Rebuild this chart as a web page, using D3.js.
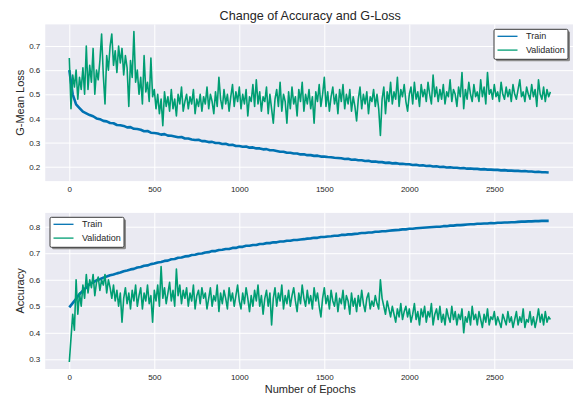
<!DOCTYPE html>
<html>
<head>
<meta charset="utf-8">
<script src="https://cdn.jsdelivr.net/npm/d3@7"></script>
<style>
  body { margin: 0; background: #fff; }
  svg text { font-family: "Liberation Sans", Arial, sans-serif; fill: #262626; }
</style>
</head>
<body>
<div id="chart"></div>
<script>
// logging interval (epochs) of the values below
var valStep = 10;
var trainStep = 20;

var seriesNames = ["Train", "Validation"];
var xTicks = [0, 500, 1000, 1500, 2000, 2500];
var lossTicks = [0.2, 0.3, 0.4, 0.5, 0.6, 0.7];
var accTicks = [0.3, 0.4, 0.5, 0.6, 0.7, 0.8];

var trainLoss = [
  0.600, 0.500, 0.458, 0.443, 0.428, 0.421, 0.414, 0.409, 0.400, 0.397,
  0.390, 0.388, 0.381, 0.380, 0.373, 0.372, 0.369, 0.363, 0.364, 0.357,
  0.356, 0.353, 0.347, 0.348, 0.341, 0.340, 0.338, 0.333, 0.335, 0.329,
  0.328, 0.325, 0.322, 0.323, 0.317, 0.317, 0.313, 0.311, 0.312, 0.306,
  0.306, 0.302, 0.303, 0.298, 0.298, 0.294, 0.295, 0.290, 0.291, 0.286,
  0.286, 0.283, 0.284, 0.279, 0.280, 0.276, 0.276, 0.272, 0.273, 0.268,
  0.268, 0.265, 0.262, 0.262, 0.258, 0.258, 0.255, 0.255, 0.251, 0.252,
  0.248, 0.248, 0.245, 0.246, 0.242, 0.242, 0.240, 0.239, 0.237, 0.236,
  0.235, 0.232, 0.233, 0.229, 0.230, 0.227, 0.227, 0.224, 0.225, 0.221,
  0.222, 0.219, 0.219, 0.216, 0.217, 0.214, 0.215, 0.212, 0.212, 0.210,
  0.210, 0.207, 0.208, 0.205, 0.206, 0.203, 0.204, 0.201, 0.202, 0.199,
  0.200, 0.197, 0.198, 0.196, 0.196, 0.194, 0.195, 0.192, 0.193, 0.191,
  0.191, 0.189, 0.190, 0.188, 0.188, 0.187, 0.187, 0.185, 0.186, 0.184,
  0.184, 0.183, 0.183, 0.181, 0.182, 0.180, 0.180, 0.178, 0.179, 0.177,
  0.177, 0.176
];

var valLoss = [
  0.65, 0.44, 0.58, 0.53, 0.60, 0.48, 0.57, 0.52, 0.61, 0.50,
  0.70, 0.52, 0.62, 0.55, 0.69, 0.50, 0.60, 0.56, 0.64, 0.75,
  0.58, 0.46, 0.66, 0.60, 0.70, 0.75, 0.62, 0.68, 0.59, 0.70,
  0.63, 0.69, 0.58, 0.66, 0.61, 0.45, 0.64, 0.57, 0.76, 0.55,
  0.60, 0.50, 0.57, 0.46, 0.66, 0.51, 0.55, 0.47, 0.65, 0.49,
  0.52, 0.44, 0.50, 0.42, 0.48, 0.37, 0.51, 0.45, 0.49, 0.43,
  0.52, 0.44, 0.48, 0.41, 0.50, 0.46, 0.53, 0.43, 0.47, 0.50,
  0.44, 0.49, 0.46, 0.52, 0.42, 0.48, 0.45, 0.50, 0.43, 0.49,
  0.46, 0.53, 0.44, 0.50, 0.47, 0.42, 0.51, 0.45, 0.57, 0.48,
  0.44, 0.52, 0.46, 0.50, 0.43, 0.49, 0.54, 0.45, 0.51, 0.47,
  0.53, 0.44, 0.50, 0.46, 0.52, 0.41, 0.49, 0.47, 0.54, 0.45,
  0.56, 0.46, 0.51, 0.43, 0.49, 0.47, 0.53, 0.42, 0.50, 0.44,
  0.38, 0.48, 0.52, 0.45, 0.55, 0.43, 0.50, 0.47, 0.38, 0.51,
  0.44, 0.53, 0.46, 0.49, 0.41, 0.52, 0.47, 0.55, 0.43, 0.50,
  0.46, 0.52, 0.44, 0.49, 0.38, 0.51, 0.47, 0.54, 0.45, 0.50,
  0.57, 0.45, 0.51, 0.43, 0.49, 0.53, 0.46, 0.50, 0.42, 0.52,
  0.47, 0.54, 0.44, 0.50, 0.46, 0.52, 0.43, 0.49, 0.45, 0.39,
  0.48, 0.53, 0.44, 0.50, 0.46, 0.51, 0.42, 0.49, 0.47, 0.52,
  0.45, 0.50, 0.44, 0.33, 0.48, 0.53, 0.42, 0.51, 0.47, 0.55,
  0.46, 0.51, 0.48, 0.57, 0.45, 0.52, 0.49, 0.54, 0.47, 0.43,
  0.50, 0.53, 0.46, 0.55, 0.48, 0.51, 0.45, 0.54, 0.49, 0.52,
  0.47, 0.55, 0.50, 0.46, 0.58, 0.49, 0.53, 0.47, 0.52, 0.48,
  0.54, 0.46, 0.51, 0.49, 0.56, 0.47, 0.52, 0.50, 0.45, 0.53,
  0.49, 0.59, 0.44, 0.52, 0.48, 0.55, 0.50, 0.47, 0.54, 0.49,
  0.51, 0.47, 0.56, 0.49, 0.53, 0.46, 0.59, 0.50, 0.52, 0.48,
  0.54, 0.49, 0.51, 0.47, 0.55, 0.50, 0.48, 0.53, 0.49, 0.52,
  0.47, 0.54, 0.50, 0.48, 0.52, 0.56, 0.49, 0.51, 0.47, 0.53,
  0.50, 0.48, 0.54, 0.49, 0.52, 0.45, 0.56, 0.50, 0.48, 0.53,
  0.47, 0.52, 0.49, 0.51
];

var trainAcc = [
  0.496, 0.512, 0.528, 0.546, 0.559, 0.571, 0.584, 0.590, 0.598, 0.602,
  0.608, 0.612, 0.617, 0.620, 0.624, 0.627, 0.632, 0.635, 0.639, 0.641,
  0.646, 0.648, 0.653, 0.654, 0.659, 0.661, 0.665, 0.667, 0.671, 0.672,
  0.677, 0.678, 0.683, 0.684, 0.688, 0.689, 0.693, 0.694, 0.698, 0.699,
  0.703, 0.704, 0.708, 0.708, 0.712, 0.713, 0.716, 0.716, 0.720, 0.720,
  0.724, 0.724, 0.728, 0.728, 0.731, 0.731, 0.735, 0.735, 0.738, 0.738,
  0.741, 0.741, 0.744, 0.744, 0.747, 0.747, 0.750, 0.750, 0.752, 0.753,
  0.755, 0.756, 0.758, 0.758, 0.761, 0.761, 0.763, 0.764, 0.766, 0.766,
  0.769, 0.769, 0.771, 0.771, 0.773, 0.774, 0.776, 0.776, 0.778, 0.778,
  0.781, 0.781, 0.783, 0.783, 0.785, 0.786, 0.787, 0.788, 0.790, 0.790,
  0.792, 0.792, 0.794, 0.795, 0.796, 0.797, 0.798, 0.799, 0.800, 0.800,
  0.802, 0.802, 0.804, 0.804, 0.806, 0.806, 0.807, 0.808, 0.809, 0.809,
  0.811, 0.811, 0.812, 0.812, 0.814, 0.813, 0.815, 0.815, 0.816, 0.816,
  0.817, 0.817, 0.818, 0.819, 0.819, 0.820, 0.820, 0.821, 0.821, 0.822,
  0.822, 0.822
];

var valAcc = [
  0.29, 0.38, 0.47, 0.41, 0.60, 0.47, 0.55, 0.50, 0.58, 0.53,
  0.62, 0.55, 0.60, 0.57, 0.62, 0.54, 0.59, 0.61, 0.56, 0.60,
  0.58, 0.62, 0.55, 0.60, 0.57, 0.53, 0.58, 0.52, 0.56, 0.50,
  0.55, 0.44, 0.53, 0.57, 0.51, 0.55, 0.49, 0.56, 0.52, 0.58,
  0.50, 0.54, 0.57, 0.49, 0.55, 0.52, 0.58, 0.51, 0.54, 0.44,
  0.56, 0.52, 0.58, 0.50, 0.65, 0.53, 0.57, 0.51, 0.55, 0.59,
  0.52, 0.56, 0.50, 0.64, 0.54, 0.58, 0.51, 0.56, 0.53, 0.57,
  0.50, 0.55, 0.52, 0.58, 0.49, 0.54, 0.56, 0.51, 0.57, 0.53,
  0.55, 0.49, 0.53, 0.57, 0.50, 0.54, 0.52, 0.58, 0.48, 0.55,
  0.51, 0.56, 0.53, 0.49, 0.57, 0.52, 0.55, 0.50, 0.54, 0.58,
  0.52, 0.49, 0.55, 0.51, 0.57, 0.53, 0.48, 0.54, 0.50, 0.56,
  0.52, 0.58, 0.50, 0.54, 0.47, 0.53, 0.56, 0.50, 0.55, 0.43,
  0.53, 0.57, 0.50, 0.55, 0.52, 0.58, 0.49, 0.54, 0.51, 0.56,
  0.50, 0.54, 0.57, 0.52, 0.48, 0.55, 0.51, 0.58, 0.53, 0.50,
  0.56, 0.51, 0.54, 0.49, 0.57, 0.52, 0.55, 0.50, 0.46, 0.53,
  0.57, 0.51, 0.54, 0.49, 0.56, 0.52, 0.50, 0.55, 0.48, 0.53,
  0.51, 0.56, 0.49, 0.54, 0.52, 0.47, 0.55, 0.50, 0.53, 0.48,
  0.54, 0.50, 0.56, 0.51, 0.48, 0.53, 0.55, 0.49, 0.52, 0.50,
  0.54, 0.51, 0.49, 0.60, 0.53, 0.50, 0.47, 0.52, 0.49, 0.46,
  0.50, 0.47, 0.44, 0.49, 0.46, 0.51, 0.45, 0.48, 0.50, 0.46,
  0.49, 0.44, 0.47, 0.51, 0.45, 0.48, 0.43, 0.49, 0.46, 0.50,
  0.44, 0.48, 0.46, 0.51, 0.43, 0.47, 0.49, 0.45, 0.50, 0.44,
  0.47, 0.43, 0.49, 0.46, 0.44, 0.50, 0.45, 0.48, 0.43, 0.47,
  0.45, 0.49, 0.40, 0.46, 0.44, 0.48, 0.43, 0.50, 0.45, 0.47,
  0.43, 0.48, 0.45, 0.42, 0.47, 0.44, 0.49, 0.43, 0.46, 0.45,
  0.48, 0.43, 0.46, 0.44, 0.42, 0.47, 0.45, 0.43, 0.48, 0.44,
  0.46, 0.42, 0.45, 0.48, 0.43, 0.46, 0.44, 0.49, 0.42, 0.45,
  0.44, 0.48, 0.43, 0.46, 0.42, 0.45, 0.49, 0.44, 0.47, 0.43,
  0.48, 0.44, 0.46, 0.45
];

var width = 573;
var height = 396;
var colors = ["#0072B2", "#009E73"];

var svg = d3.select("#chart")
  .append("svg")
  .attr("width", width)
  .attr("height", height);

// both panels share the epoch axis
var x = d3.scaleLinear()
  .domain([-141.5, 2976.5])
  .range([45.25, 575.3]);

function drawPanel(cfg) {
  var y = d3.scaleLinear().domain(cfg.yDomain).range([cfg.bottom, cfg.top]);
  var h = cfg.bottom - cfg.top;
  var g = svg.append("g");

  g.append("rect")
    .attr("x", x.range()[0])
    .attr("y", cfg.top)
    .attr("width", x.range()[1] - x.range()[0])
    .attr("height", h)
    .attr("fill", "#EAEAF2");

  g.append("clipPath")
    .attr("id", cfg.id + "-clip")
    .append("rect")
    .attr("x", x.range()[0])
    .attr("y", cfg.top)
    .attr("width", x.range()[1] - x.range()[0])
    .attr("height", h);

  var xAxis = g.append("g")
    .attr("transform", "translate(0," + cfg.bottom + ")")
    .call(d3.axisBottom(x).tickValues(xTicks).tickFormat(d3.format("d"))
      .tickSize(-h).tickPadding(5));

  var yAxis = g.append("g")
    .attr("transform", "translate(" + x.range()[0] + ",0)")
    .call(d3.axisLeft(y).tickValues(cfg.yTicks).tickFormat(d3.format(".1f"))
      .tickSize(-(x.range()[1] - x.range()[0])).tickPadding(5));

  [xAxis, yAxis].forEach(function (a) {
    a.select(".domain").remove();
    a.selectAll(".tick line").attr("stroke", "#fff").attr("stroke-width", 1);
    a.selectAll(".tick text")
      .attr("fill", "#262626")
      .style("font-size", "8px");
  });

  var lines = g.append("g").attr("clip-path", "url(#" + cfg.id + "-clip)");

  var line = function (step) {
    return d3.line()
      .x(function (d, i) { return x(i * step); })
      .y(function (d) { return y(d); });
  };

  lines.append("path")
    .datum(cfg.train)
    .attr("fill", "none")
    .attr("stroke", colors[0])
    .attr("stroke-width", 2.6)
    .attr("stroke-linejoin", "round")
    .attr("d", line(trainStep));

  lines.append("path")
    .datum(cfg.val)
    .attr("fill", "none")
    .attr("stroke", colors[1])
    .attr("stroke-width", 1.6)
    .attr("stroke-linejoin", "round")
    .attr("d", line(valStep));

  g.append("text")
    .attr("transform", "translate(24," + (cfg.top + h / 2) + ") rotate(-90)")
    .attr("text-anchor", "middle")
    .style("font-size", "11px")
    .text(cfg.yLabel);

  // legend box with drop shadow
  var lg = g.append("g").attr("transform", "translate(" + cfg.legend[0] + "," + cfg.legend[1] + ")");
  lg.append("rect")
    .attr("x", 2).attr("y", 2)
    .attr("width", 74).attr("height", 30)
    .attr("rx", 1.5)
    .attr("fill", "#8c8c8c");
  lg.append("rect")
    .attr("width", 74).attr("height", 30)
    .attr("rx", 1.5)
    .attr("fill", "#fff")
    .attr("stroke", "#3a3a3a")
    .attr("stroke-width", 1);

  seriesNames.forEach(function (name, i) {
    var ly = 7 + i * 13.8;
    lg.append("line")
      .attr("x1", 3.5).attr("x2", 23.5)
      .attr("y1", ly).attr("y2", ly)
      .attr("stroke", colors[i])
      .attr("stroke-width", 1.3);
    lg.append("text")
      .attr("x", 32)
      .attr("y", ly)
      .attr("dy", "0.35em")
      .style("font-size", "9px")
      .text(name);
  });
}

drawPanel({
  id: "loss",
  top: 24.4,
  bottom: 181.1,
  yDomain: [0.1405, 0.7895],
  yTicks: lossTicks,
  yLabel: "G-Mean Loss",
  train: trainLoss,
  val: valLoss,
  legend: [494, 29.3]
});

drawPanel({
  id: "acc",
  top: 212.9,
  bottom: 369,
  yDomain: [0.2635, 0.852],
  yTicks: accTicks,
  yLabel: "Accuracy",
  train: trainAcc,
  val: valAcc,
  legend: [50, 217.3]
});

svg.append("text")
  .attr("x", (x.range()[0] + x.range()[1]) / 2)
  .attr("y", 19.5)
  .attr("text-anchor", "middle")
  .style("font-size", "12.6px")
  .text("Change of Accuracy and G-Loss");

svg.append("text")
  .attr("x", (x.range()[0] + x.range()[1]) / 2)
  .attr("y", 393)
  .attr("text-anchor", "middle")
  .style("font-size", "11px")
  .text("Number of Epochs");
</script>
</body>
</html>
